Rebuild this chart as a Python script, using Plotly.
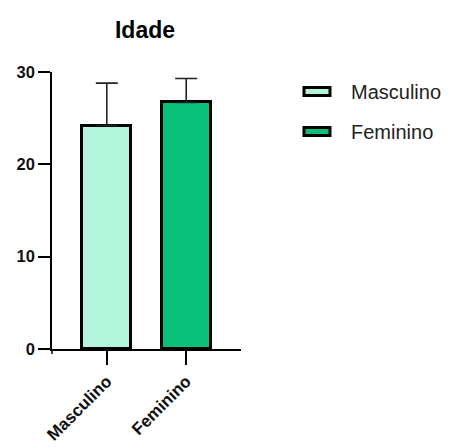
import plotly.graph_objects as go

categories = ["Masculino", "Feminino"]
means = [24.2, 26.7]
sd_upper = [4.6, 2.6]
colors = ["#B3F5DC", "#08C07A"]
y_ticks = [0, 10, 20, 30]

OFF = 8  # page body margin
W, H = 451 - OFF, 448 - OFF
L, R, T, B = 52, 241, 72, 349  # plot area pixel box (window coords)

def px_x(px):
    return (px - L) / (R - L)

def px_y(py):
    return (B - py) / (B - T)

FONT = "Liberation Sans, Arial"

fig = go.Figure()
for i, c in enumerate(categories):
    fig.add_trace(go.Bar(
        x=[c], y=[means[i]], name=c,
        marker=dict(color=colors[i], line=dict(color="black", width=3)),
        width=0.62,
        error_y=dict(type="data", array=[sd_upper[i]], arrayminus=[0], symmetric=False,
                     color="#222222", thickness=1.6, width=11),
        showlegend=False,
    ))

# manual legend
shapes = []
annotations = []
leg_rows = [91.5, 131.5]
for i, c in enumerate(categories):
    yc = leg_rows[i]
    shapes.append(dict(type="rect", xref="paper", yref="paper",
                       x0=px_x(304), x1=px_x(330), y0=px_y(yc + 4), y1=px_y(yc - 4),
                       fillcolor=colors[i], line=dict(color="black", width=3)))
    annotations.append(dict(text=c, xref="paper", yref="paper", x=px_x(349), y=px_y(yc),
                            xanchor="left", yanchor="middle", showarrow=False,
                            font=dict(family=FONT, size=20, color="#222")))

# y axis extension below x axis
shapes.append(dict(type="line", xref="paper", yref="paper",
                   x0=0, x1=0, y0=0, y1=px_y(354), line=dict(color="black", width=1.5)))

fig.update_layout(
    width=W, height=H,
    margin=dict(l=L - OFF, r=W - (R - OFF), t=T - OFF, b=H - (B - OFF), pad=0),
    plot_bgcolor="white", paper_bgcolor="white",
    title=dict(text="<b>Idade</b>", xref="container", yref="container",
               x=(145 - OFF) / W, xanchor="center",
               y=1 - (30 - OFF) / H, yanchor="middle",
               font=dict(family=FONT, size=23, color="black")),
    shapes=shapes, annotations=annotations,
    bargap=0,
)
fig.update_xaxes(
    range=[-0.69, 1.69], showline=True, linecolor="black", linewidth=1.5,
    ticks="outside", ticklen=14, tickwidth=1.5, tickcolor="black",
    tickangle=-45, tickfont=dict(family=FONT, size=17, color="#111", weight="bold"),
    showgrid=False, zeroline=False, automargin=False,
)
fig.update_yaxes(
    range=[0, 30], tickvals=y_ticks, showline=True, linecolor="black", linewidth=1.5,
    ticks="outside", ticklen=12, tickwidth=1.5, tickcolor="black",
    tickfont=dict(family=FONT, size=16.5, color="#111", weight="bold"),
    showgrid=False, zeroline=False, automargin=False,
)
fig.write_html("out.html")
